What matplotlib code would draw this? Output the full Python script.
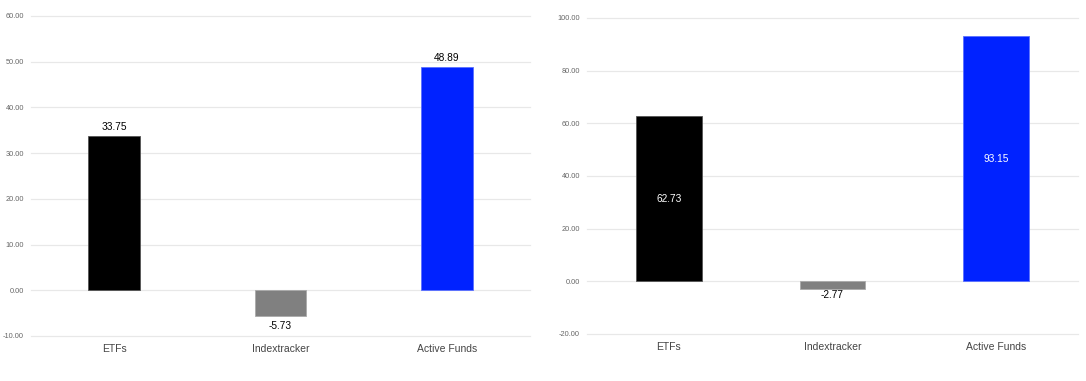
import matplotlib
matplotlib.use("Agg")
import matplotlib.pyplot as plt

categories = ["ETFs", "Indextracker", "Active Funds"]
left_values = [33.75, -5.73, 48.89]
right_values = [62.73, -2.77, 93.15]
bar_colors = ["#000000", "#808080", "#0022ff"]
edge_colors = ["#555555", "#aaaaaa", "#5a70ff"]

left_ticks = [-10, 0, 10, 20, 30, 40, 50, 60]
right_ticks = [-20, 0, 20, 40, 60, 80, 100]

plt.rcParams["font.family"] = ["Liberation Sans", "DejaVu Sans"]

fig = plt.figure(figsize=(10.86, 3.81), dpi=100)
ax_l = fig.add_axes([31 / 1086, 45 / 381, 499 / 1086, 320 / 381])
ax_r = fig.add_axes([587 / 1086, 47 / 381, 491 / 1086, 316 / 381])


def style_axis(ax, ticks):
    ax.set_ylim(ticks[0], ticks[-1])
    ax.set_yticks(ticks)
    ax.set_yticklabels([f"{t:.2f}" for t in ticks], fontsize=5.3, color="#666666")
    ax.yaxis.grid(True, color="#e8e8e8", linewidth=0.9)
    for gl in ax.yaxis.get_gridlines():
        gl.set_clip_on(False)
    ax.set_axisbelow(True)
    for s in ax.spines.values():
        s.set_visible(False)
    ax.tick_params(axis="y", length=0, pad=5)
    ax.tick_params(axis="x", length=0, pad=6, labelsize=7.5, labelcolor="#444444")
    ax.set_xlim(-0.5, len(categories) - 0.5)
    ax.set_xticks(range(len(categories)))
    ax.set_xticklabels(categories)


# left chart: labels outside bars
style_axis(ax_l, left_ticks)
ax_l.bar(range(len(categories)), left_values, width=0.31, color=bar_colors,
         edgecolor=edge_colors, linewidth=0.6)
for i, v in enumerate(left_values):
    if v >= 0:
        ax_l.annotate(f"{v:.2f}", (i, v), xytext=(0, 3), textcoords="offset points",
                      ha="center", va="bottom", fontsize=7.3)
    else:
        ax_l.annotate(f"{v:.2f}", (i, v), xytext=(0, -3), textcoords="offset points",
                      ha="center", va="top", fontsize=7.3)

# right chart: labels inside positive bars
style_axis(ax_r, right_ticks)
ax_r.bar(range(len(categories)), right_values, width=0.4, color=bar_colors,
         edgecolor=edge_colors, linewidth=0.6)
for i, v in enumerate(right_values):
    if v >= 0:
        ax_r.text(i, v / 2, f"{v:.2f}", ha="center", va="center", fontsize=7.3, color="white")
    else:
        ax_r.annotate(f"{v:.2f}", (i, v), xytext=(0, -1), textcoords="offset points",
                      ha="center", va="top", fontsize=7.3)

fig.savefig("out.png", dpi=100)
